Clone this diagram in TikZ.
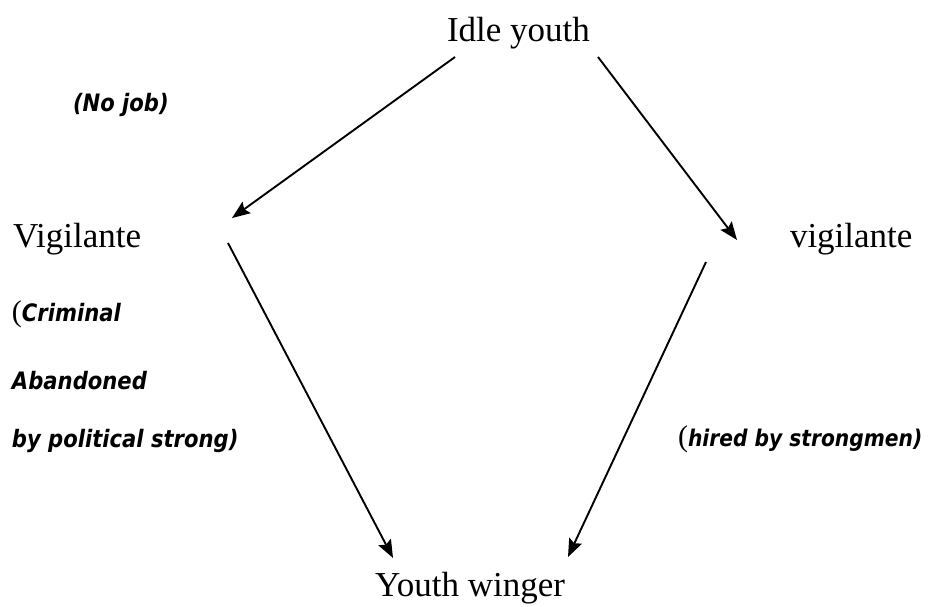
\documentclass[tikz,border=0pt]{standalone}
\usepackage{fontspec}
\usepackage{graphicx}
\setmainfont{Liberation Serif}
\newfontfamily\labfont{DejaVu Sans}
\usetikzlibrary{arrows.meta,calc}
\newcommand\condtext[1]{\scalebox{0.88}[1]{#1}}
\newcommand\uparen{{\rmfamily\mdseries\upshape\fontsize{30}{30}\selectfont(}}
\begin{document}
\begin{tikzpicture}[x=1pt,y=1pt,
  every node/.style={inner sep=0pt,outer sep=0pt},
  main/.style={font=\fontsize{35}{38}\selectfont},
  lab/.style={font=\labfont\bfseries\itshape\fontsize{24}{26}\selectfont},
  arr/.style={line width=1.9pt,-{Stealth[length=18pt,width=14pt,inset=3pt]}}]
\useasboundingbox (0,0) rectangle (936,607);
\node[main,anchor=base west] (idle) at (447,565) {Idle youth};
\node[main,anchor=base west] (vl) at (13,359) {Vigilante};
\node[main,anchor=base west] (vr) at (790,359) {vigilante};
\node[main,anchor=base] (yw) at (470,10) {Youth winger};
\node[lab,anchor=base west] (nojob) at (73,495) {\condtext{(No job)}};
\node[lab,anchor=base west] (crim) at (12,285) {\uparen\condtext{Criminal}};
\node[lab,anchor=base west] (aband) at (12,217) {\condtext{Abandoned}};
\node[lab,anchor=base west] (bypol) at (12,159) {\condtext{by political strong)}};
\node[lab,anchor=base west,font=\labfont\bfseries\itshape\fontsize{23}{26}\selectfont] (hired) at (678,160) {\uparen\condtext{hired by strongmen)}};
\draw[arr] ($(idle.base west)+(8,-15)$) -- ($(vl.base west)+(219,30)$);
\draw[arr] ($(idle.base west)+(151,-15)$) -- ($(vr.base west)+(-53,8)$);
\draw[arr] ($(vl.base west)+(215,5)$) -- ($(yw.base)+(-77,39)$);
\draw[arr] ($(vr.base west)+(-84,-14)$) -- ($(yw.base)+(98,40)$);
\end{tikzpicture}
\end{document}
